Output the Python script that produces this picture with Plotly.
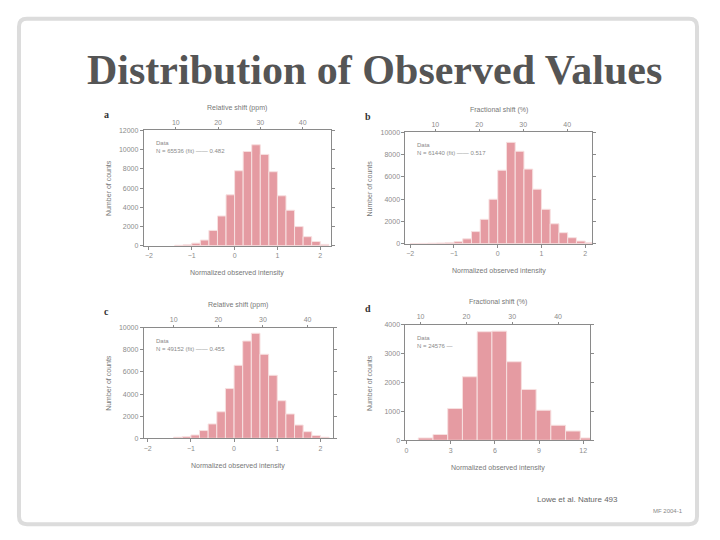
import plotly.graph_objects as go

W, H = 720, 540

def fx(px):
    return px / W

def fy(py):
    return 1 - py / H

TITLE = "Distribution of Observed Values"
PANEL_LABELS = ["a", "b", "c", "d"]
TOP_TITLES = ["Relative shift (ppm)", "Fractional shift (%)", "Relative shift (ppm)", "Fractional shift (%)"]
BOTTOM_TITLES = ["Normalized observed intensity", "Normalized observed intensity",
                 "Normalized observed intensity", "Normalized observed intensity"]
Y_TITLE = "Number of counts"
LEGEND_LINE1 = ["Data", "Data", "Data", "Data"]
LEGEND_LINE2 = ["N = 65536 (fit) —— 0.482", "N = 61440 (fit) —— 0.517",
                "N = 49152 (fit) —— 0.455", "N = 24576 —"]
FOOTER = "Lowe et al. Nature 493"
SLIDE_NO = "MF 2004-1"

# Panel a
A_X = [-1.3, -1.1, -0.9, -0.7, -0.5, -0.3, -0.1, 0.1, 0.3, 0.5, 0.7, 0.9, 1.1, 1.3, 1.5, 1.7, 1.9, 2.1]
A_Y = [60, 120, 280, 600, 1600, 3100, 5300, 7800, 9800, 10500, 9500, 7700, 5200, 3700, 2000, 950, 450, 150]
# Panel b
B_X = [-1.9, -1.7, -1.5, -1.3, -1.1, -0.9, -0.7, -0.5, -0.3, -0.1, 0.1, 0.3, 0.5, 0.7, 0.9, 1.1, 1.3, 1.5, 1.7, 1.9, 2.1]
B_Y = [30, 40, 60, 80, 120, 200, 450, 1100, 2200, 4000, 6600, 9100, 8300, 6700, 4900, 3100, 1800, 1000, 550, 250, 100]
# Panel c
C_X = [-1.3, -1.1, -0.9, -0.7, -0.5, -0.3, -0.1, 0.1, 0.3, 0.5, 0.7, 0.9, 1.1, 1.3, 1.5, 1.7, 1.9, 2.1]
C_Y = [100, 150, 300, 700, 1300, 2400, 4500, 6600, 8800, 9500, 7600, 5700, 3400, 2200, 1200, 600, 250, 100]
# Panel d
D_X = [1.3, 2.3, 3.3, 4.3, 5.3, 6.3, 7.3, 8.3, 9.3, 10.3, 11.3, 12.3]
D_Y = [80, 200, 1100, 2200, 3760, 3780, 2720, 1760, 1040, 520, 320, 80]

BOTTOM_TICKS_ABC = [-2, -1, 0, 1, 2]
BOTTOM_TICKS_D = [0, 3, 6, 9, 12]
TOP_TICKS = [10, 20, 30, 40]

panels = [
    dict(x=A_X, y=A_Y, w=0.2, dom_x=(143, 330), dom_y=(128, 245), xr=[-2.12, 2.24], tr=[2.43, 46.6],
         yr=[0, 12000], dt=2000, bt=BOTTOM_TICKS_ABC),
    dict(x=B_X, y=B_Y, w=0.2, dom_x=(405, 592), dom_y=(130, 243), xr=[-2.11, 2.16], tr=[3.2, 45.7],
         yr=[0, 10000], dt=2000, bt=BOTTOM_TICKS_ABC),
    dict(x=C_X, y=C_Y, w=0.2, dom_x=(143, 332), dom_y=(328, 440), xr=[-2.09, 2.28], tr=[3.3, 45.6],
         yr=[0, 10000], dt=2000, bt=BOTTOM_TICKS_ABC),
    dict(x=D_X, y=D_Y, w=1.0, dom_x=(405, 590), dom_y=(325, 442), xr=[-0.07, 12.47], tr=[6.7, 47.0],
         yr=[0, 4000], dt=1000, bt=BOTTOM_TICKS_D),
]

AX_COLOR = "#8a8a8a"
TXT_COLOR = "#8c8c8c"
BAR_COLOR = "#e59ba2"
FONT = "Liberation Sans"

fig = go.Figure()
layout = dict(
    width=W, height=H, margin=dict(l=0, r=0, t=0, b=0),
    paper_bgcolor="white", plot_bgcolor="white", showlegend=False,
    font=dict(family=FONT, size=7, color=TXT_COLOR),
)
annotations = []


def note(text, px, py, size, color, **kw):
    d = dict(text=text, x=fx(px), y=fy(py), xref="paper", yref="paper", showarrow=False,
             xanchor="center", yanchor="middle", font=dict(size=size, color=color))
    if "family" in kw:
        d["font"]["family"] = kw.pop("family")
    d.update(kw)
    annotations.append(d)


for i, p in enumerate(panels):
    n = i + 1
    xa = "x" if n == 1 else f"x{n}"
    ya = "y" if n == 1 else f"y{n}"
    ta = f"x{n + 4}"
    fig.add_trace(go.Bar(x=p["x"], y=p["y"], width=p["w"], xaxis=xa, yaxis=ya,
                         marker=dict(color=BAR_COLOR, line=dict(color="#f7e0e0", width=1)),
                         hoverinfo="skip"))
    fig.add_trace(go.Scatter(x=TOP_TICKS, y=[0] * len(TOP_TICKS), xaxis=ta, yaxis=ya,
                             mode="markers", marker=dict(opacity=0), hoverinfo="skip"))
    dx = [fx(p["dom_x"][0]), fx(p["dom_x"][1])]
    dy = [fy(p["dom_y"][1]), fy(p["dom_y"][0])]
    axkey = "xaxis" if n == 1 else f"xaxis{n}"
    aykey = "yaxis" if n == 1 else f"yaxis{n}"
    layout[axkey] = dict(domain=dx, anchor=ya, range=p["xr"], tickvals=p["bt"],
                         showline=True, linecolor=AX_COLOR, linewidth=1, mirror=False,
                         ticks="outside", ticklen=3, tickcolor=AX_COLOR, showgrid=False,
                         zeroline=False, tickfont=dict(size=7, color=TXT_COLOR))
    layout[aykey] = dict(domain=dy, anchor=xa, range=p["yr"], dtick=p["dt"], tickformat="d",
                         showline=True, linecolor=AX_COLOR, linewidth=1, mirror="ticks",
                         ticks="outside", ticklen=3, tickcolor=AX_COLOR, showgrid=False,
                         zeroline=False, tickfont=dict(size=7, color=TXT_COLOR))
    layout[f"xaxis{n + 4}"] = dict(overlaying=xa, anchor=ya, side="top", range=p["tr"],
                                   tickvals=TOP_TICKS, showline=True, linecolor=AX_COLOR,
                                   linewidth=1, ticks="outside", ticklen=2, tickcolor=AX_COLOR,
                                   showgrid=False, zeroline=False,
                                   tickfont=dict(size=7, color=TXT_COLOR))
    x0, x1 = p["dom_x"]
    y0, y1 = p["dom_y"]
    cx = (x0 + x1) / 2
    note(f"<b>{PANEL_LABELS[i]}</b>", x0 - 37, y0 - 16, 10, "#333333", family="Liberation Serif")
    note(TOP_TITLES[i], cx, y0 - 23, 7, "#777777")
    note(BOTTOM_TITLES[i], cx, y1 + 28, 7, "#777777")
    note(Y_TITLE, x0 - 36, (y0 + y1) / 2, 7, "#777777", textangle=-90)
    note(LEGEND_LINE1[i] + "<br>" + LEGEND_LINE2[i], x0 + 10, y0 + 8, 6, "#8a8a8a",
         xanchor="left", yanchor="top", align="left")

note(f"<b>{TITLE}</b>", 374, 67, 42, "#555555", family="Liberation Serif")
note(FOOTER, 577, 502, 8, "#666666")
note(SLIDE_NO, 668, 514, 6, "#888888")
layout["annotations"] = annotations

# rounded slide frame
r = 8
L, T, R, B = 18, 15, 697, 527
path = (f"M {fx(L + r)},{fy(T)} L {fx(R - r)},{fy(T)} Q {fx(R)},{fy(T)} {fx(R)},{fy(T + r)} "
        f"L {fx(R)},{fy(B - r)} Q {fx(R)},{fy(B)} {fx(R - r)},{fy(B)} "
        f"L {fx(L + r)},{fy(B)} Q {fx(L)},{fy(B)} {fx(L)},{fy(B - r)} "
        f"L {fx(L)},{fy(T + r)} Q {fx(L)},{fy(T)} {fx(L + r)},{fy(T)} Z")
layout["shapes"] = [dict(type="path", path=path, xref="paper", yref="paper",
                         line=dict(color="#dcdcdc", width=4), layer="below")]

fig.update_layout(**layout)
fig.write_html("out.html")
